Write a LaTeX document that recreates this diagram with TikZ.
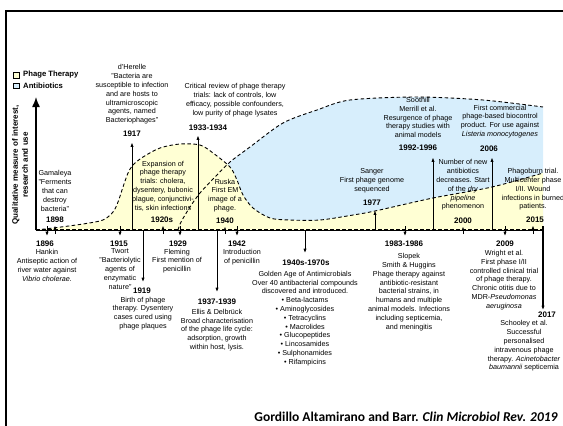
\documentclass[tikz,border=0pt]{standalone}
\usepackage{fontspec}
\setmainfont{Liberation Sans}
\newfontfamily\calfont{Carlito}
\usetikzlibrary{arrows.meta}
\definecolor{phagecol}{HTML}{FFFFD4}
\definecolor{anticol}{HTML}{D7EEFC}
\tikzset{
  desc/.style={font=\fontsize{7.2}{8.8}\selectfont, align=center, inner sep=0pt},
  yr/.style={font=\bfseries\fontsize{8}{9.6}\selectfont, inner sep=0pt, anchor=base},
  arr/.style={line width=0.9pt, -{Latex[length=4.5pt,width=3.2pt]}},
  curve/.style={line width=0.9pt, dash pattern=on 3.5pt off 2.5pt},
  legbox/.style={draw, line width=0.6pt, minimum size=5.6pt, inner sep=0pt},
  legtxt/.style={font=\bfseries\fontsize{7.7}{9}\selectfont, inner sep=0pt, anchor=west}
}
\begin{document}
\begin{tikzpicture}[x=1pt,y=-1pt]
\useasboundingbox (0,0) rectangle (563,426);
% frame
\draw[line width=2.5pt] (6,426) -- (6,11) -- (563,11);
% regions
\fill[anticol] plot[smooth,tension=0.5] coordinates {(178,230) (181,222) (190,207) (200,193) (215,177) (230,162) (250,147) (283,123) (317,110) (350,100) (417,97) (483,100) (543,107)} -- (543,230) -- cycle;
\fill[phagecol] plot[smooth,tension=0.5] coordinates {(36,230) (57,227.5) (83,224) (103,220) (113,212) (118,202) (123,187) (128,173) (133,165) (143,157) (160,148) (180,144) (200,145) (213,153) (230,167) (237,180) (243,195) (253,208) (270,218) (290,220) (320,220) (353,215) (375,211) (433,198) (492,187) (543,173)} -- (543,230) -- cycle;
\draw[curve] plot[smooth,tension=0.5] coordinates {(178,230) (181,222) (190,207) (200,193) (215,177) (230,162) (250,147) (283,123) (317,110) (350,100) (417,97) (483,100) (543,107)};
\draw[curve] plot[smooth,tension=0.5] coordinates {(36,230) (57,227.5) (83,224) (103,220) (113,212) (118,202) (123,187) (128,173) (133,165) (143,157) (160,148) (180,144) (200,145) (213,153) (230,167) (237,180) (243,195) (253,208) (270,218) (290,220) (320,220) (353,215) (375,211) (433,198) (492,187) (543,173)};
% axes
\coordinate (o) at (36,230);
\coordinate (ytop) at (36,97);
\coordinate (xend) at (543,230);
\draw[line width=0.9pt] (o) -- (xend);
\draw[line width=1.7pt, dash pattern=on 4pt off 2pt] (o) -- (xend);
\draw[line width=1.4pt, -{Latex[length=10pt,width=8pt]}] (o) -- (ytop);
\node[font=\bfseries\fontsize{8}{10}\selectfont, align=center, rotate=90, inner sep=0pt] (ylab) at (20,165) {Qualitative measure of interest,\\research and use};
% legend
\node[legbox, fill=phagecol] (lp) at (16.3,75) {};
\node[legtxt] (lpt) at (23,75) {Phage Therapy};
\node[legbox, fill=anticol] (la) at (16.3,85.8) {};
\node[legtxt] (lat) at (23,85.8) {Antibiotics};
% year labels above
\node[yr] (y1917) at (132,136) {1917};
\node[yr] (y1933) at (208,130) {1933-1934};
\node[yr] (y1898) at (55,222) {1898};
\node[yr] (y1920) at (162,222) {1920s};
\node[yr] (y1940) at (225,223) {1940};
\node[yr] (y1977) at (372,205) {1977};
\node[yr] (y1992) at (418,150) {1992-1996};
\node[yr] (y2006) at (489,151) {2006};
\node[yr] (y2000) at (463,223) {2000};
\node[yr] (y2015) at (535,222) {2015};
% year labels below
\node[yr] (y1896) at (45,246) {1896};
\node[yr] (y1915) at (119,246) {1915};
\node[yr] (y1919) at (142,293) {1919};
\node[yr] (y1929) at (178,246) {1929};
\node[yr] (y1937) at (217,304) {1937-1939};
\node[yr] (y1942) at (237,246) {1942};
\node[yr] (y1940s) at (306,265) {1940s-1970s};
\node[yr] (y1983) at (404,246) {1983-1986};
\node[yr] (y2009) at (505,246) {2009};
\node[yr] (y2017) at (547,317) {2017};
% descriptions
\node[desc] (d1917) at (132,94.5) {d'Herelle\\"Bacteria are\\susceptible to infection\\and are hosts to\\ultramicroscopic\\agents, named\\Bacteriophages"};
\node[desc] (d1933) at (235,100) {Critical review of phage therapy\\trials: lack of controls, low\\efficacy, possible confounders,\\low purity of phage lysates};
\node[desc] (d1898) at (55,191) {Gamaleya\\"Ferments\\that can\\destroy\\bacteria"};
\node[desc] (d1920) at (163,186) {Expansion of\\phage therapy\\trials: cholera,\\dysentery, bubonic\\plague, conjunctivi-\\tis, skin infections};
\node[desc] (d1940) at (225,195.5) {Ruska\\First EM\\image of a\\phage.};
\node[desc] (d1977) at (372,180.5) {Sanger\\First phage genome\\sequenced};
\node[desc] (d1992) at (418,117.5) {Soothill\\Merrill et al.\\Resurgence of phage\\therapy studies with\\animal models};
\node[desc] (d2006) at (500,121.5) {First commercial\\phage-based biocontrol\\product. For use against\\\textit{Listeria monocytogenes}};
\node[desc] (d2000) at (463,185) {Number of new\\antibiotics\\decreases. Start\\of the \textit{dry}\\\textit{pipeline}\\phenomenon};
\node[desc] (d2015) at (533,189.5) {Phagoburn trial.\\Multicenter phase\\I/II. Wound\\infections in burned\\patients.};
\node[desc] (d1896) at (47,265.5) {Hankin\\Antiseptic action of\\river water against\\\textit{Vibrio cholerae.}};
\node[desc] (d1915) at (120,269) {Twort\\"Bacteriolytic\\agents of\\enzymatic\\nature"};
\node[desc] (d1919) at (143,313.5) {Birth of phage\\therapy. Dysentery\\cases cured using\\phage plaques};
\node[desc] (d1929) at (177,261) {Fleming\\First mention of\\penicillin};
\node[desc] (d1937) at (217,330) {Ellis \& Delbrück\\Broad characterisation\\of the phage life cycle:\\adsorption, growth\\within host, lysis.};
\node[desc] (d1942) at (242,257.5) {Introduction\\of penicillin};
\node[desc] (d1940s) at (305,318.5) {Golden Age of Antimicrobials\\Over 40 antibacterial compounds\\discovered and introduced.\\\textbullet\ Beta-lactams\\\textbullet\ Aminoglycosides\\\textbullet\ Tetracyclins\\\textbullet\ Macrolides\\\textbullet\ Glucopeptides\\\textbullet\ Lincosamides\\\textbullet\ Sulphonamides\\\textbullet\ Rifampicins};
\node[desc] (d1983) at (409,292) {Slopek\\Smith \& Huggins\\Phage therapy against\\antibiotic-resistant\\bacterial strains, in\\humans and multiple\\animal models. Infections\\including septicemia,\\and meningitis};
\node[desc] (d2009) at (504,280) {Wright et al.\\First phase I/II\\controlled clinical trial\\of phage therapy.\\Chronic otitis due to\\MDR-\textit{Pseudomonas}\\\textit{aeruginosa}};
\node[desc] (d2017) at (524,346) {Schooley et al.\\Successful\\personalised\\intravenous phage\\therapy. \textit{Acinetobacter}\\\textit{baumannii} septicemia};
% long arrows
\coordinate (a1917) at (132,230);
\coordinate (a1933) at (198,230);
\coordinate (a1919) at (143,230);
\coordinate (a1937) at (217,230);
\coordinate (a1940s) at (305,230);
\coordinate (a1977) at (375,230);
\coordinate (a1992) at (433,230);
\coordinate (a2006) at (492,230);
\coordinate (a2017) at (543,226);
\draw[arr, shorten >=6pt] (a1917) -- (a1917 |- y1917.south);
\draw[arr, shorten >=5pt] (a1933) -- (a1933 |- y1933.south);
\draw[arr, shorten >=5pt] (a1977) -- (a1977 |- y1977.south);
\draw[arr, shorten >=7pt] (a1992) -- (a1992 |- y1992.south);
\draw[arr, shorten >=6pt] (a2006) -- (a2006 |- y2006.south);
\draw[arr, shorten >=5pt] (a1919) -- (a1919 |- y1919.north);
\draw[arr, shorten >=6pt] (a1937) -- (a1937 |- y1937.north);
\draw[arr, shorten >=6pt] (a1940s) -- (a1940s |- y1940s.north);
\draw[arr, line width=1.2pt, shorten >=1pt] (a2017) -- (a2017 |- y2017.north);
% short arrows up
\coordinate (s1898) at (55,234);
\coordinate (s1920) at (163,234);
\coordinate (s1940) at (225,234);
\coordinate (s2000) at (463,234);
\coordinate (s2015) at (533,234);
\draw[arr, shorten >=3pt] (s1898) -- (s1898 |- y1898.south);
\draw[arr, shorten >=3pt] (s1920) -- (s1920 |- y1920.south);
\draw[arr, shorten >=3pt] (s1940) -- (s1940 |- y1940.south);
\draw[arr, shorten >=3pt] (s2000) -- (s2000 |- y2000.south);
\draw[arr, shorten >=3pt] (s2015) -- (s2015 |- y2015.south);
% short arrows down
\coordinate (s1896) at (47,226);
\coordinate (s1915) at (120,226);
\coordinate (s1929) at (180,226);
\coordinate (s1942) at (237,226);
\coordinate (s1983) at (405,226);
\coordinate (s2009) at (505,226);
\draw[arr, shorten >=4pt] (s1896) -- (s1896 |- y1896.north);
\draw[arr, shorten >=4pt] (s1915) -- (s1915 |- y1915.north);
\draw[arr, shorten >=4pt] (s1929) -- (s1929 |- y1929.north);
\draw[arr, shorten >=4pt] (s1942) -- (s1942 |- y1942.north);
\draw[arr, shorten >=4pt] (s1983) -- (s1983 |- y1983.north);
\draw[arr, shorten >=4pt] (s2009) -- (s2009 |- y2009.north);
% citation
\node[font=\calfont\bfseries\fontsize{13.5}{16}\selectfont, anchor=base east, inner sep=0pt] (cite) at (558,421) {Gordillo Altamirano and Barr. \textit{Clin Microbiol Rev. 2019}};
\end{tikzpicture}
\end{document}
